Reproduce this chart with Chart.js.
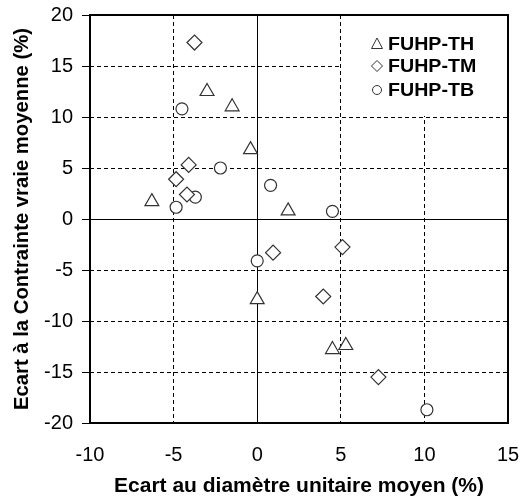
<!DOCTYPE html>
<html>
<head>
<meta charset="utf-8">
<script src="https://cdn.jsdelivr.net/npm/chart.js@4/dist/chart.umd.min.js"></script>
<style>
  html, body { margin: 0; padding: 0; background: #fff; }
  #wrap { width: 520px; height: 499px; }
</style>
</head>
<body>
<div id="wrap"><canvas id="c" width="520" height="499"></canvas></div>
<script>
// ---- data ----
const seriesNames = ["FUHP-TH", "FUHP-TM", "FUHP-TB"];
const thX = [-6.3, -3.0, -1.5, -0.4, 1.85, 0.0, 4.5, 5.3];
const thY = [1.7, 12.5, 11.0, 6.8, 0.8, -7.9, -12.8, -12.4];
const tmX = [-3.75, -4.1, -4.85, -4.2, 0.95, 5.1, 3.95, 7.25];
const tmY = [17.3, 5.3, 3.9, 2.4, -3.3, -2.75, -7.6, -15.5];
const tbX = [-4.5, -2.2, -3.7, -4.85, 0.8, 4.5, 0.0, 10.15];
const tbY = [10.8, 5.0, 2.15, 1.15, 3.3, 0.75, -4.1, -18.7];
const xTicks = [-10, -5, 0, 5, 10, 15];
const yTicks = [-20, -15, -10, -5, 0, 5, 10, 15, 20];
const xTitle = "Ecart au diamètre unitaire moyen (%)";
const yTitle = "Ecart à la Contrainte vraie moyenne (%)";

const FONT = "'Liberation Sans', Arial, sans-serif";
const pts = (xs, ys) => xs.map((x, i) => ({ x: x, y: ys[i] }));
const styles = [
  { pointStyle: 'triangle', pointRadius: 8 },
  { pointStyle: 'rectRot', pointRadius: 7.5 },
  { pointStyle: 'circle', pointRadius: 6 }
];
const seriesData = [pts(thX, thY), pts(tmX, tmY), pts(tbX, tbY)];

const datasets = seriesNames.map((n, i) => ({
  label: n,
  data: seriesData[i],
  pointStyle: styles[i].pointStyle,
  pointRadius: styles[i].pointRadius,
  pointHoverRadius: styles[i].pointRadius,
  pointBackgroundColor: '#fff',
  pointBorderColor: '#333',
  pointBorderWidth: 1.2,
  showLine: false
}));

const framePlugin = {
  id: 'frameAndLegend',
  beforeDatasetsDraw(chart) {
    const ctx = chart.ctx, a = chart.chartArea;
    const xs = chart.scales.x, ys = chart.scales.y;
    ctx.save();
    // legend background box
    const lx = xs.getPixelForValue(5) + 1;
    const ly = ys.getPixelForValue(10) - 1;
    ctx.fillStyle = '#fff';
    ctx.fillRect(lx, a.top, a.right - lx, ly - a.top);
    // solid zero lines
    ctx.strokeStyle = '#000';
    ctx.lineWidth = 1;
    ctx.setLineDash([]);
    const x0 = Math.round(xs.getPixelForValue(0)) + 0.5;
    const y0 = Math.round(ys.getPixelForValue(0)) + 0.5;
    ctx.beginPath();
    ctx.moveTo(x0, a.top); ctx.lineTo(x0, a.bottom);
    ctx.moveTo(a.left, y0); ctx.lineTo(a.right, y0);
    ctx.stroke();
    // frame
    ctx.lineWidth = 2;
    ctx.strokeRect(a.left, a.top, a.right - a.left, a.bottom - a.top);
    // legend
    const rowY = [44, 66, 90];
    const mx = 377;
    ctx.lineWidth = 1;
    ctx.strokeStyle = '#333';
    ctx.fillStyle = '#fff';
    rowY.forEach((y, i) => {
      ctx.beginPath();
      if (i === 0) {
        ctx.moveTo(mx, y - 6); ctx.lineTo(mx + 5.5, y + 4.5); ctx.lineTo(mx - 5.5, y + 4.5); ctx.closePath();
      } else if (i === 1) {
        ctx.moveTo(mx, y - 5.5); ctx.lineTo(mx + 5.5, y); ctx.lineTo(mx, y + 5.5); ctx.lineTo(mx - 5.5, y); ctx.closePath();
      } else {
        ctx.arc(mx, y, 4.5, 0, Math.PI * 2);
      }
      ctx.fill(); ctx.stroke();
    });
    ctx.fillStyle = '#000';
    ctx.font = "bold 18px " + FONT;
    ctx.textBaseline = 'middle';
    ctx.textAlign = 'left';
    rowY.forEach((y, i) => {
      ctx.save();
      ctx.translate(388, y + 1);
      ctx.scale(1.09, 1);
      ctx.fillText(seriesNames[i], 0, 0);
      ctx.restore();
    });
    ctx.restore();
  }
};

new Chart(document.getElementById('c'), {
  type: 'scatter',
  data: { datasets },
  plugins: [framePlugin],
  options: {
    responsive: false,
    animation: false,
    layout: { padding: { left: 0, right: 12, top: 15, bottom: 0 } },
    plugins: { legend: { display: false }, tooltip: { enabled: false } },
    scales: {
      x: {
        type: 'linear', min: -10, max: 15,
        afterBuildTicks: s => { s.ticks = xTicks.map(v => ({ value: v })); },
        afterFit: s => { s.height = 76; s.paddingLeft = 0; s.paddingRight = 0; },
        grid: { color: '#000', lineWidth: 1, drawTicks: false },
        border: { display: false, dash: [4, 3] },
        ticks: { color: '#000', padding: 20, font: { family: FONT, size: 20 }, maxRotation: 0 },
        title: { display: true, text: xTitle, color: '#000', padding: { top: 0, bottom: 0 },
                 font: { family: FONT, size: 21, weight: 'bold' } }
      },
      y: {
        type: 'linear', min: -20, max: 20,
        afterBuildTicks: s => { s.ticks = yTicks.map(v => ({ value: v })); },
        afterFit: s => { s.width = 90; s.paddingTop = 0; s.paddingBottom = 0; },
        grid: { color: '#000', lineWidth: 1, drawTicks: true, tickLength: 8 },
        border: { display: false, dash: [4, 3] },
        ticks: { color: '#000', padding: 9, font: { family: FONT, size: 20 } },
        title: { display: true, text: yTitle, color: '#000', padding: { top: 10, bottom: 0 },
                 font: { family: FONT, size: 20.3, weight: 'bold' } }
      }
    }
  }
});
</script>
</body>
</html>
